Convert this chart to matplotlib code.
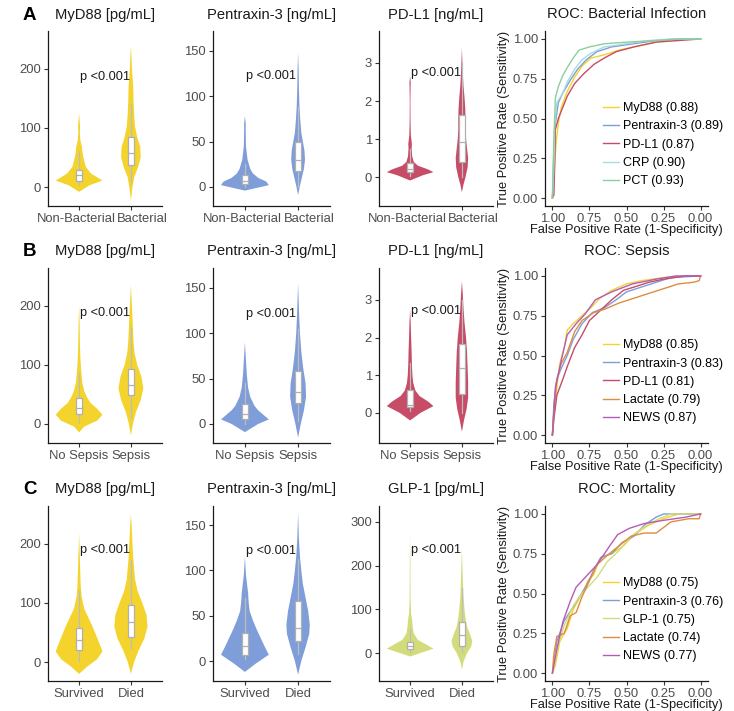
import numpy as np
import matplotlib.pyplot as plt
from matplotlib.patches import Rectangle
from matplotlib.transforms import ScaledTranslation

plt.rcParams['font.family'] = ['Liberation Sans', 'DejaVu Sans']

# violin outlines: (value, half width in category units)
A_myd_0 = [(-8, 0), (3, 0.2), (11, 0.45), (23, 0.23), (34, 0.13), (51, 0.08), (62, 0.06),
           (68, 0.055), (79, 0.025), (91, 0.015), (102, 0.02), (125, 0)]
A_myd_1 = [(-23, 0), (0, 0.03), (17, 0.065), (34, 0.14), (51, 0.19), (68, 0.18), (85, 0.12),
           (102, 0.08), (119, 0.065), (147, 0.05), (170, 0.045), (193, 0.025), (227, 0.007), (238, 0)]
A_ptx_0 = [(-4, 0), (2, 0.45), (6, 0.4), (10, 0.25), (15, 0.15), (20, 0.1), (30, 0.05), (45, 0.02),
           (60, 0.015), (70, 0.015), (78, 0)]
A_ptx_1 = [(-9, 0), (0, 0.03), (10, 0.07), (20, 0.11), (30, 0.13), (40, 0.12), (50, 0.09), (60, 0.06),
           (75, 0.04), (90, 0.025), (110, 0.015), (130, 0.01), (148, 0)]
A_pdl_0 = [(-0.09, 0), (0.05, 0.25), (0.13, 0.45), (0.2, 0.35), (0.3, 0.15), (0.4, 0.07), (0.55, 0.04),
           (0.75, 0.03), (0.87, 0.035), (1.1, 0.015), (1.5, 0.008), (2.0, 0.006), (2.5, 0.012), (2.65, 0)]
A_pdl_1 = [(-0.4, 0), (-0.2, 0.03), (0, 0.07), (0.25, 0.11), (0.5, 0.12), (0.75, 0.1), (1.0, 0.08),
           (1.25, 0.07), (1.5, 0.07), (1.8, 0.065), (2.1, 0.05), (2.4, 0.03), (2.8, 0.015), (3.4, 0)]

B_myd_0 = [(-15, 0), (-5, 0.1), (5, 0.35), (15, 0.45), (25, 0.35), (35, 0.22), (45, 0.15), (55, 0.1),
           (70, 0.06), (90, 0.04), (110, 0.025), (140, 0.015), (170, 0.01), (200, 0)]
B_myd_1 = [(-20, 0), (0, 0.04), (20, 0.1), (40, 0.19), (60, 0.24), (80, 0.2), (100, 0.12), (120, 0.07),
           (140, 0.05), (160, 0.04), (180, 0.03), (200, 0.02), (235, 0)]
B_ptx_0 = [(-9, 0), (0, 0.25), (5, 0.45), (10, 0.35), (15, 0.25), (20, 0.18), (30, 0.1), (40, 0.06),
           (55, 0.035), (70, 0.02), (90, 0)]
B_ptx_1 = [(-15, 0), (0, 0.05), (15, 0.11), (30, 0.15), (45, 0.14), (60, 0.1), (80, 0.06), (100, 0.035),
           (120, 0.02), (155, 0)]
B_pdl_0 = [(-0.2, 0), (0, 0.2), (0.18, 0.45), (0.3, 0.35), (0.45, 0.18), (0.6, 0.1), (0.8, 0.06),
           (1.0, 0.045), (1.3, 0.035), (1.6, 0.03), (2.0, 0.02), (2.4, 0.012), (2.75, 0)]
B_pdl_1 = [(-0.5, 0), (-0.2, 0.04), (0.1, 0.09), (0.4, 0.12), (0.8, 0.12), (1.2, 0.11), (1.6, 0.1),
           (2.0, 0.08), (2.4, 0.05), (2.8, 0.03), (3.2, 0.015), (3.5, 0)]

C_myd_0 = [(-20, 0), (-8, 0.15), (5, 0.35), (18, 0.45), (30, 0.4), (45, 0.33), (60, 0.26), (75, 0.18),
           (90, 0.1), (110, 0.05), (130, 0.03), (160, 0.02), (190, 0.01), (218, 0)]
C_myd_1 = [(-20, 0), (0, 0.06), (20, 0.15), (40, 0.26), (60, 0.32), (80, 0.3), (100, 0.22), (120, 0.13),
           (140, 0.08), (170, 0.05), (200, 0.03), (230, 0.015), (250, 0)]
C_ptx_0 = [(-12, 0), (-3, 0.2), (7, 0.45), (15, 0.38), (25, 0.3), (35, 0.22), (45, 0.15), (55, 0.09),
           (65, 0.07), (75, 0.06), (85, 0.04), (95, 0.02), (115, 0)]
C_ptx_1 = [(-15, 0), (0, 0.06), (15, 0.14), (30, 0.21), (40, 0.22), (55, 0.19), (70, 0.14), (85, 0.09),
           (100, 0.06), (115, 0.035), (135, 0.015), (163, 0)]
C_glp_0 = [(-8, 0), (0, 0.2), (10, 0.45), (20, 0.3), (30, 0.15), (45, 0.07), (60, 0.05), (75, 0.04),
           (90, 0.02), (120, 0.01), (150, 0.008), (200, 0.006), (275, 0)]
C_glp_1 = [(-38, 0), (-20, 0.03), (0, 0.1), (15, 0.18), (28, 0.2), (45, 0.15), (60, 0.1), (80, 0.07),
           (100, 0.05), (130, 0.03), (160, 0.02), (200, 0.01), (240, 0)]

# box stats: (whisker low, q1, median, q3, whisker high)
A_box = [[(3, 11, 20, 29, 59), (8, 38, 58, 84, 140)],
         [(0, 3, 7, 13, 25), (0, 18, 30, 50, 88)],
         [(0.02, 0.14, 0.22, 0.38, 0.75), (0.0, 0.4, 0.93, 1.62, 3.0)]]
B_box = [[(2, 17, 26, 43, 85), (10, 48, 66, 93, 163)],
         [(0, 5, 11, 22, 45), (3, 23, 35, 58, 105)],
         [(0.05, 0.15, 0.22, 0.62, 1.33), (0.0, 0.5, 1.2, 1.83, 3.0)]]
C_box = [[(2, 20, 37, 57, 120), (22, 43, 67, 97, 172)],
         [(2, 7, 17, 31, 70), (8, 22, 36, 66, 112)],
         [(0, 9, 15, 26, 55), (2, 17, 41, 72, 148)]]

groups_A = ['Non-Bacterial', 'Bacterial']
groups_B = ['No Sepsis', 'Sepsis']
groups_C = ['Survived', 'Died']

titles_A = ['MyD88 [pg/mL]', 'Pentraxin-3 [ng/mL]', 'PD-L1 [ng/mL]']
titles_B = ['MyD88 [pg/mL]', 'Pentraxin-3 [ng/mL]', 'PD-L1 [ng/mL]']
titles_C = ['MyD88 [pg/mL]', 'Pentraxin-3 [ng/mL]', 'GLP-1 [pg/mL]']

pval_y_A = [187, 122, 2.74]
pval_y_B = [187, 121, 2.72]
pval_y_C = [189, 121, 236]

ylims_A = [(-32, 264), (-21, 172), (-0.76, 3.84)]
ylims_B = [(-33, 264), (-21, 172), (-0.8, 3.85)]
ylims_C = [(-32, 264), (-22, 171), (-64, 336)]
yticks_A = [[0, 100, 200], [0, 50, 100, 150], [0, 1, 2, 3]]
yticks_B = [[0, 100, 200], [0, 50, 100, 150], [0, 1, 2, 3]]
yticks_C = [[0, 100, 200], [0, 50, 100, 150], [0, 100, 200, 300]]

# ROC curves: (specificity, sensitivity)
rocA_myd = [(1.0, 0.0), (0.985, 0.2), (0.975, 0.35), (0.96, 0.47), (0.94, 0.57), (0.9, 0.67), (0.85, 0.76),
            (0.8, 0.83), (0.74, 0.88), (0.65, 0.9), (0.55, 0.93), (0.4, 0.96), (0.25, 0.99), (0.1, 1.0), (0.0, 1.0)]
rocA_ptx = [(1.0, 0.0), (0.99, 0.3), (0.98, 0.47), (0.96, 0.6), (0.93, 0.66), (0.88, 0.74), (0.83, 0.81),
            (0.77, 0.87), (0.7, 0.92), (0.6, 0.95), (0.45, 0.97), (0.3, 0.99), (0.15, 1.0), (0.0, 1.0)]
rocA_pdl = [(1.0, 0.0), (0.99, 0.02), (0.985, 0.2), (0.98, 0.43), (0.96, 0.5), (0.93, 0.57), (0.9, 0.64),
            (0.85, 0.72), (0.79, 0.78), (0.72, 0.84), (0.65, 0.88), (0.57, 0.92), (0.45, 0.95), (0.3, 0.98),
            (0.15, 0.99), (0.0, 1.0)]
rocA_crp = [(1.0, 0.0), (0.99, 0.2), (0.985, 0.45), (0.97, 0.6), (0.93, 0.66), (0.9, 0.73), (0.85, 0.81),
            (0.8, 0.87), (0.74, 0.91), (0.65, 0.95), (0.5, 0.97), (0.35, 0.99), (0.2, 1.0), (0.0, 1.0)]
rocA_pct = [(1.0, 0.0), (0.99, 0.38), (0.985, 0.5), (0.98, 0.63), (0.96, 0.7), (0.93, 0.77), (0.9, 0.82),
            (0.86, 0.88), (0.82, 0.93), (0.75, 0.95), (0.65, 0.97), (0.5, 0.98), (0.3, 0.99), (0.15, 1.0), (0.0, 1.0)]

rocB_myd = [(1.0, 0.0), (0.99, 0.12), (0.97, 0.3), (0.95, 0.45), (0.92, 0.55), (0.9, 0.66), (0.86, 0.7),
            (0.8, 0.75), (0.74, 0.8), (0.68, 0.86), (0.6, 0.91), (0.5, 0.95), (0.4, 0.97), (0.25, 0.99),
            (0.1, 1.0), (0.0, 1.0)]
rocB_ptx = [(1.0, 0.0), (0.99, 0.2), (0.97, 0.35), (0.94, 0.42), (0.9, 0.5), (0.86, 0.6), (0.8, 0.7),
            (0.73, 0.77), (0.65, 0.8), (0.57, 0.85), (0.5, 0.9), (0.4, 0.93), (0.3, 0.96), (0.2, 0.99), (0.0, 1.0)]
rocB_pdl = [(1.0, 0.0), (0.99, 0.1), (0.97, 0.25), (0.93, 0.35), (0.9, 0.43), (0.85, 0.55), (0.8, 0.63),
            (0.75, 0.72), (0.68, 0.78), (0.6, 0.85), (0.52, 0.91), (0.45, 0.93), (0.35, 0.96), (0.25, 0.98),
            (0.1, 1.0), (0.0, 1.0)]
rocB_lac = [(1.0, 0.0), (0.99, 0.15), (0.97, 0.35), (0.94, 0.45), (0.9, 0.52), (0.85, 0.65), (0.8, 0.72),
            (0.72, 0.77), (0.65, 0.79), (0.55, 0.83), (0.45, 0.86), (0.35, 0.89), (0.25, 0.92), (0.15, 0.95),
            (0.05, 0.96), (0.01, 0.97), (0.0, 1.0)]
rocB_news = [(1.0, 0.0), (0.98, 0.3), (0.94, 0.47), (0.9, 0.63), (0.84, 0.7), (0.78, 0.76), (0.71, 0.85),
             (0.6, 0.9), (0.46, 0.95), (0.3, 0.98), (0.17, 1.0), (0.0, 1.0)]

rocC_myd = [(1.0, 0.0), (0.98, 0.05), (0.95, 0.2), (0.9, 0.28), (0.86, 0.4), (0.8, 0.5), (0.76, 0.58),
            (0.72, 0.62), (0.68, 0.72), (0.6, 0.75), (0.52, 0.8), (0.45, 0.87), (0.35, 0.93), (0.25, 0.97),
            (0.15, 1.0), (0.0, 1.0)]
rocC_ptx = [(1.0, 0.0), (0.97, 0.2), (0.92, 0.33), (0.87, 0.4), (0.83, 0.46), (0.77, 0.55), (0.72, 0.65),
            (0.67, 0.73), (0.6, 0.75), (0.53, 0.82), (0.45, 0.86), (0.38, 0.93), (0.3, 0.98), (0.25, 1.0), (0.0, 1.0)]
rocC_glp = [(1.0, 0.0), (0.97, 0.15), (0.92, 0.3), (0.86, 0.42), (0.8, 0.5), (0.75, 0.55), (0.7, 0.6),
            (0.63, 0.7), (0.55, 0.77), (0.48, 0.85), (0.38, 0.92), (0.28, 0.97), (0.2, 1.0), (0.0, 1.0)]
rocC_lac = [(1.0, 0.0), (0.99, 0.12), (0.97, 0.23), (0.92, 0.25), (0.88, 0.36), (0.84, 0.38), (0.8, 0.48),
            (0.74, 0.6), (0.7, 0.68), (0.63, 0.74), (0.55, 0.8), (0.47, 0.86), (0.38, 0.88), (0.3, 0.88),
            (0.2, 0.95), (0.08, 0.97), (0.01, 0.97), (0.0, 1.0)]
rocC_news = [(1.0, 0.0), (0.97, 0.15), (0.93, 0.32), (0.88, 0.45), (0.84, 0.54), (0.78, 0.6), (0.7, 0.68),
             (0.62, 0.79), (0.56, 0.87), (0.48, 0.91), (0.38, 0.94), (0.25, 0.96), (0.1, 0.98), (0.0, 1.0)]

labels_A = ['MyD88 (0.88)', 'Pentraxin-3 (0.89)', 'PD-L1 (0.87)', 'CRP (0.90)', 'PCT (0.93)']
labels_B = ['MyD88 (0.85)', 'Pentraxin-3 (0.83)', 'PD-L1 (0.81)', 'Lactate (0.79)', 'NEWS (0.87)']
labels_C = ['MyD88 (0.75)', 'Pentraxin-3 (0.76)', 'GLP-1 (0.75)', 'Lactate (0.74)', 'NEWS (0.77)']
roc_titles = ['ROC: Bacterial Infection', 'ROC: Sepsis', 'ROC: Mortality']

c_myd, c_ptx, c_pdl, c_glp = '#F3D32C', '#7F9DD8', '#C64C67', '#D3DC7B'
c_crp, c_pct, c_lac, c_news = '#A6DCE2', '#8BD09C', '#DE8D3E', '#B65CB6'

rows = [
    dict(letter='A', groups=groups_A, titles=titles_A, vio=[(A_myd_0, A_myd_1), (A_ptx_0, A_ptx_1), (A_pdl_0, A_pdl_1)],
         box=A_box, cols=[c_myd, c_ptx, c_pdl], py=pval_y_A, yl=ylims_A, yt=yticks_A,
         roc=[rocA_myd, rocA_ptx, rocA_pdl, rocA_crp, rocA_pct], rcols=[c_myd, c_ptx, c_pdl, c_crp, c_pct],
         labels=labels_A, top=31, shift=(-3, 11)),
    dict(letter='B', groups=groups_B, titles=titles_B, vio=[(B_myd_0, B_myd_1), (B_ptx_0, B_ptx_1), (B_pdl_0, B_pdl_1)],
         box=B_box, cols=[c_myd, c_ptx, c_pdl], py=pval_y_B, yl=ylims_B, yt=yticks_B,
         roc=[rocB_myd, rocB_ptx, rocB_pdl, rocB_lac, rocB_news], rcols=[c_myd, c_ptx, c_pdl, c_lac, c_news],
         labels=labels_B, top=268, shift=(0, 0)),
    dict(letter='C', groups=groups_C, titles=titles_C, vio=[(C_myd_0, C_myd_1), (C_ptx_0, C_ptx_1), (C_glp_0, C_glp_1)],
         box=C_box, cols=[c_myd, c_ptx, c_glp], py=pval_y_C, yl=ylims_C, yt=yticks_C,
         roc=[rocC_myd, rocC_ptx, rocC_glp, rocC_lac, rocC_news], rcols=[c_myd, c_ptx, c_glp, c_lac, c_news],
         labels=labels_C, top=506, shift=(0, 0)),
]

W, H = 734, 711
fig = plt.figure(figsize=(W / 100, H / 100), dpi=100)
col_left = [48, 213, 379]
col_width = [114, 117, 114]
roc_left, roc_width = 545, 163
ax_h = 175
title_fs = 10.6


def style(ax):
    for s in ['top', 'right']:
        ax.spines[s].set_visible(False)
    for s in ['left', 'bottom']:
        ax.spines[s].set_color('#1a1a1a')
        ax.spines[s].set_linewidth(0.9)
    ax.tick_params(length=3, width=0.8, color='#333333', labelcolor='#4D4D4D', labelsize=9.4, pad=2)


for ri, row in enumerate(rows):
    bottom = (H - row['top'] - ax_h) / H
    for k in range(3):
        ax = fig.add_axes([col_left[k] / W, bottom, col_width[k] / W, ax_h / H])
        style(ax)
        for j, prof in enumerate(row['vio'][k]):
            y = np.array([p[0] for p in prof])
            w = np.array([p[1] for p in prof])
            cx = j + 1
            ax.fill(np.concatenate([cx - w, (cx + w)[::-1]]), np.concatenate([y, y[::-1]]),
                    color=row['cols'][k], lw=0)
            lo, q1, med, q3, hi = row['box'][k][j]
            ax.plot([cx, cx], [lo, q1], color='#BDBDBD', lw=0.9)
            ax.plot([cx, cx], [q3, hi], color='#BDBDBD', lw=0.9)
            ax.add_patch(Rectangle((cx - 0.055, q1), 0.11, q3 - q1, facecolor='white',
                                   edgecolor='#B0B0B0', lw=0.9, zorder=3))
            ax.plot([cx - 0.055, cx + 0.055], [med, med], color='#B0B0B0', lw=0.9, zorder=4)
        ax.text(1.5, row['py'][k], 'p <0.001', ha='center', va='center', fontsize=9.2, color='#1a1a1a')
        ax.set_xlim(0.4, 2.6)
        ax.set_ylim(*row['yl'][k])
        ax.set_xticks([1, 2])
        ax.set_xticklabels(row['groups'])
        for lab, dx in zip(ax.get_xticklabels(), row['shift']):
            lab.set_transform(lab.get_transform() + ScaledTranslation(dx / 100, 0, fig.dpi_scale_trans))
        ax.set_yticks(row['yt'][k])
        ax.set_title(row['titles'][k], fontsize=title_fs, pad=9, color='#1a1a1a')
    fig.text(23 / W, 1 - (row['top'] - 16) / H, row['letter'], fontsize=13.5, fontweight='bold',
             ha='left', va='center')

    ax = fig.add_axes([roc_left / W, bottom, roc_width / W, ax_h / H])
    style(ax)
    for curve, c, lab in zip(row['roc'], row['rcols'], row['labels']):
        sp = [p[0] for p in curve]
        se = [p[1] for p in curve]
        ax.plot(sp, se, color=c, lw=1.0, label=lab)
    ax.set_xlim(1.05, -0.05)
    ax.set_ylim(-0.05, 1.05)
    ax.set_xticks([1.0, 0.75, 0.5, 0.25, 0.0])
    ax.set_xticklabels(['1.00', '0.75', '0.50', '0.25', '0.00'])
    ax.set_yticks([0.0, 0.25, 0.5, 0.75, 1.0])
    ax.set_yticklabels(['0.00', '0.25', '0.50', '0.75', '1.00'])
    ax.set_xlabel('False Positive Rate (1-Specificity)', fontsize=9.3, labelpad=-1, color='#1a1a1a')
    ax.set_ylabel('True Positive Rate (Sensitivity)', fontsize=9.3, labelpad=2, color='#1a1a1a')
    ax.set_title(roc_titles[ri], fontsize=title_fs, pad=9, color='#1a1a1a')
    ax.legend(loc='center left', bbox_to_anchor=(0.355, 0.35), frameon=False, fontsize=9,
              handlelength=1.3, handletextpad=0.35, labelspacing=0.5, borderpad=0, borderaxespad=0)

fig.savefig('out.png', dpi=100, facecolor='white')
